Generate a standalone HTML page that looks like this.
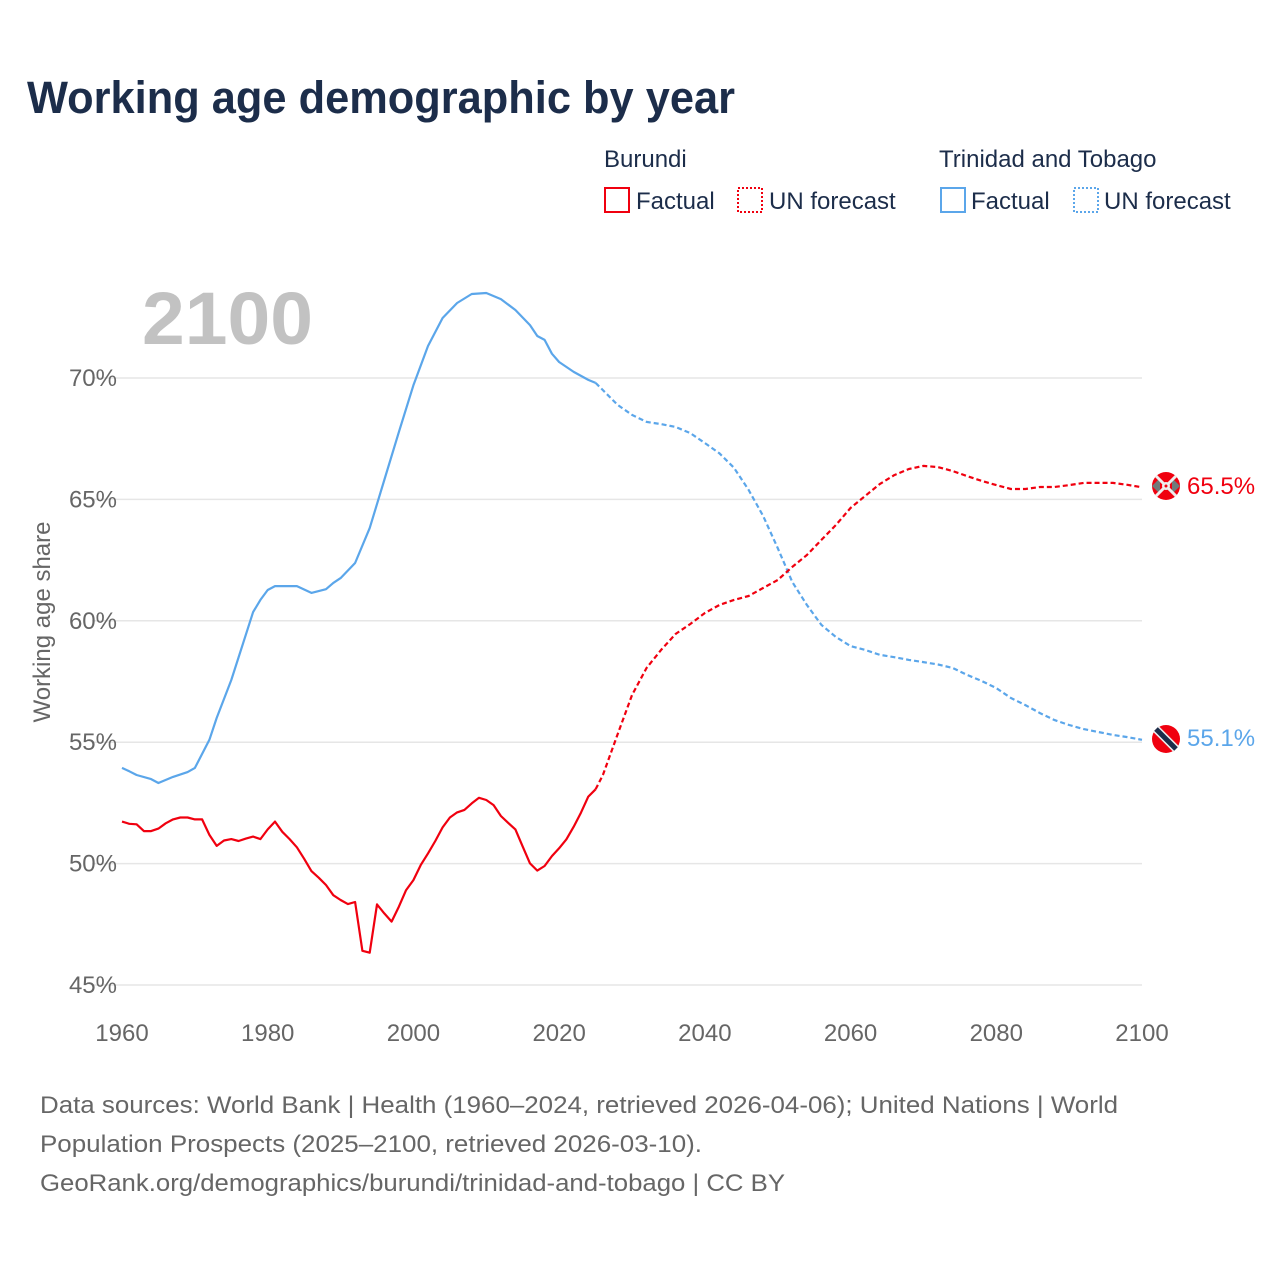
<!DOCTYPE html>
<html><head><meta charset="utf-8"><style>
body{margin:0;background:#fff;width:1280px;height:1280px;overflow:hidden;font-family:"Liberation Sans",sans-serif}
</style></head><body>
<svg width="1280" height="1280" xmlns="http://www.w3.org/2000/svg" id="chart">
<text x="27" y="113" font-size="45" font-weight="bold" fill="#1c2d4a" textLength="708" lengthAdjust="spacingAndGlyphs">Working age demographic by year</text>
<g font-size="24" fill="#1c2d4a">
<text x="604" y="167">Burundi</text>
<text x="939" y="167">Trinidad and Tobago</text>
<g><rect x="605" y="188" width="24" height="24" fill="none" stroke="#f0000f" stroke-width="2"/><text x="636" y="209">Factual</text></g>
<g><rect x="738" y="188" width="24" height="24" fill="none" stroke="#f0000f" stroke-width="2" stroke-dasharray="2,2"/><text x="769" y="209">UN forecast</text></g>
<g><rect x="941" y="188" width="24" height="24" fill="none" stroke="#5ba6ea" stroke-width="2"/><text x="971" y="209">Factual</text></g>
<g><rect x="1074" y="188" width="24" height="24" fill="none" stroke="#5ba6ea" stroke-width="2" stroke-dasharray="2,2"/><text x="1104" y="209">UN forecast</text></g>
</g>
<text x="142" y="344" font-size="74" font-weight="bold" fill="#c2c2c2" textLength="171" lengthAdjust="spacingAndGlyphs">2100</text>
<g id="grid"></g>
<g id="yticks" font-size="24" fill="#666"></g>
<g id="xticks" font-size="24" fill="#666"></g>
<text transform="translate(50,622) rotate(-90)" text-anchor="middle" font-size="24" fill="#666">Working age share</text>
<g id="series"></g>
<g>
<circle cx="1166" cy="486" r="14" fill="#f0000f"/>
<path d="M1152,486 L1160,478 L1160,494 Z M1180,486 L1172,478 L1172,494 Z" fill="#707a7a"/>
<path d="M1156,476 L1176,496 M1176,476 L1156,496" stroke="#eee" stroke-width="3"/>
<circle cx="1166" cy="486" r="4" fill="#eee"/><circle cx="1166" cy="486" r="1.5" fill="#f0000f"/>
</g>
<g>
<circle cx="1166" cy="739" r="14" fill="#f0000f"/>
<path d="M1156,729 L1176,749" stroke="#eee" stroke-width="8"/>
<path d="M1156,729 L1176,749" stroke="#1c2d4a" stroke-width="5"/>
</g>
<text id="lbl1" x="1187" y="494" font-size="24" fill="#f0000f"></text>
<text id="lbl2" x="1187" y="746" font-size="24" fill="#5ba6ea"></text>
<g font-size="24" fill="#666">
<text x="40" y="1113" textLength="1078" lengthAdjust="spacingAndGlyphs">Data sources: World Bank | Health (1960–2024, retrieved 2026-04-06); United Nations | World</text>
<text x="40" y="1152" textLength="662" lengthAdjust="spacingAndGlyphs">Population Prospects (2025–2100, retrieved 2026-03-10).</text>
<text x="40" y="1191" textLength="745" lengthAdjust="spacingAndGlyphs">GeoRank.org/demographics/burundi/trinidad-and-tobago | CC BY</text>
</g>
</svg>
<script>
const yTicks=[45,50,55,60,65,70];
const xTicks=[1960,1980,2000,2020,2040,2060,2080,2100];
const buYears=[1960,1961,1962,1963,1964,1965,1966,1967,1968,1969,1970,1971,1972,1973,1974,1975,1976,1977,1978,1979,1980,1981,1982,1983,1984,1985,1986,1987,1988,1989,1990,1991,1992,1993,1994,1995,1996,1997,1998,1999,2000,2001,2002,2003,2004,2005,2006,2007,2008,2009,2010,2011,2012,2013,2014,2015,2016,2017,2018,2019,2020,2021,2022,2023,2024,2025];
const buValues=[51.73,51.64,51.62,51.34,51.34,51.44,51.66,51.82,51.9,51.9,51.82,51.82,51.18,50.73,50.95,51.01,50.93,51.03,51.11,51.01,51.41,51.73,51.31,51.01,50.67,50.2,49.69,49.42,49.12,48.7,48.5,48.33,48.42,46.41,46.33,48.32,47.95,47.61,48.23,48.91,49.32,49.94,50.42,50.93,51.49,51.9,52.11,52.21,52.48,52.71,52.62,52.41,51.96,51.68,51.41,50.7,50.01,49.71,49.9,50.31,50.63,51.0,51.52,52.1,52.76,53.06];
const buFcYears=[2025,2026,2028,2030,2032,2034,2036,2038,2040,2042,2044,2046,2048,2050,2052,2054,2056,2058,2060,2062,2064,2066,2068,2070,2072,2074,2076,2078,2080,2082,2084,2086,2088,2090,2092,2094,2096,2098,2100];
const buFcValues=[53.06,53.65,55.3,56.94,58.06,58.8,59.46,59.87,60.32,60.65,60.86,61.02,61.35,61.68,62.22,62.71,63.33,63.95,64.65,65.14,65.63,66.0,66.25,66.38,66.33,66.17,65.96,65.76,65.59,65.43,65.43,65.51,65.51,65.59,65.68,65.68,65.68,65.6,65.5];
const ttYears=[1960,1961,1962,1964,1965,1967,1969,1970,1972,1973,1975,1978,1979,1980,1981,1984,1986,1988,1989,1990,1992,1994,1996,1998,2000,2002,2004,2006,2008,2010,2012,2014,2016,2017,2018,2019,2020,2022,2024,2025];
const ttValues=[53.94,53.8,53.65,53.48,53.32,53.57,53.77,53.94,55.1,56.0,57.56,60.36,60.86,61.27,61.43,61.43,61.15,61.3,61.56,61.76,62.38,63.82,65.8,67.78,69.7,71.32,72.47,73.09,73.46,73.5,73.25,72.8,72.18,71.73,71.57,71.0,70.66,70.25,69.92,69.8];
const ttFcYears=[2025,2026,2028,2030,2032,2034,2036,2038,2040,2042,2044,2046,2048,2050,2052,2054,2056,2058,2060,2062,2064,2066,2068,2070,2072,2074,2076,2078,2080,2082,2084,2086,2088,2090,2092,2094,2096,2098,2100];
const ttFcValues=[69.8,69.5,68.9,68.48,68.19,68.1,67.98,67.73,67.32,66.9,66.3,65.39,64.32,63.0,61.6,60.65,59.83,59.33,58.96,58.8,58.6,58.5,58.39,58.3,58.2,58.06,57.77,57.52,57.23,56.82,56.53,56.2,55.91,55.71,55.54,55.42,55.3,55.21,55.1];
const NS="http://www.w3.org/2000/svg";
const xS=y=>122+(y-1960)*(1020/140);
const yS=v=>985-(v-45)*(607/25);
function mk(tag,attrs,parent){const e=document.createElementNS(NS,tag);for(const k in attrs)e.setAttribute(k,attrs[k]);document.getElementById(parent).appendChild(e);return e;}
yTicks.forEach(t=>{
 const l=mk('line',{x1:92,x2:1142,y1:yS(t),y2:yS(t),stroke:'#e6e6e6','stroke-width':1.5},'grid');
 
 
 const tx=mk('text',{x:117,y:yS(t)+8,'text-anchor':'end'},'yticks');
 tx.textContent=t+'%';
 
 
});
xTicks.forEach(t=>{
 const tx=mk('text',{x:xS(t),y:1041,'text-anchor':'middle'},'xticks');
 tx.textContent=t;
 
 
});
function line(xs,vs,color,dash,name){
 const d=xs.map((x,i)=>(i?'L':'M')+xS(x).toFixed(1)+','+yS(vs[i]).toFixed(1)).join(' ');
 const p=mk('path',{d:d,fill:'none',stroke:color,'stroke-width':2.2,'stroke-linejoin':'round'},'series');
 if(dash)p.setAttribute('stroke-dasharray','5,3');
 
 
}
line(ttYears,ttValues,'#5ba6ea',false,'line-trinidad-factual');
line(ttFcYears,ttFcValues,'#5ba6ea',true,'line-trinidad-forecast');
line(buYears,buValues,'#f0000f',false,'line-burundi-factual');
line(buFcYears,buFcValues,'#f0000f',true,'line-burundi-forecast');
document.getElementById('lbl1').textContent=buFcValues[buFcValues.length-1].toFixed(1)+'%';
document.getElementById('lbl2').textContent=ttFcValues[ttFcValues.length-1].toFixed(1)+'%';
</script>
</body></html>
